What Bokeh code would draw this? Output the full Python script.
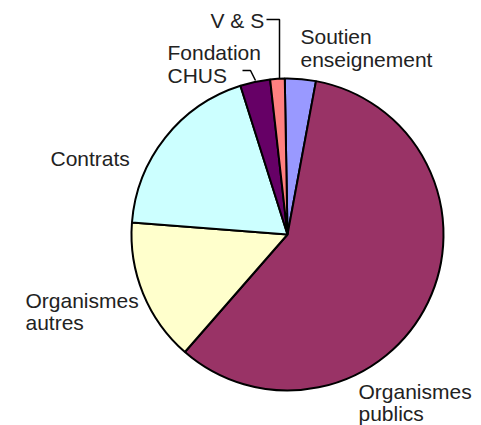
import math
from bokeh.plotting import figure
from bokeh.models import Range1d, ColumnDataSource
from bokeh.core.properties import value
from bokeh.embed import file_html
from bokeh.resources import INLINE

# Data (percent share, clockwise from 12 o'clock)
categories = ["Soutien enseignement", "Organismes publics", "Organismes autres",
              "Contrats", "Fondation CHUS", "V & S"]
shares = [3.2, 58.5, 14.8, 18.9, 3.1, 1.5]
colors = ["#9999FF", "#993366", "#FFFFCC", "#CCFFFF", "#660066", "#FF8080"]

# label lines
label_lines = ["V & S", "Soutien", "enseignement", "Fondation", "CHUS", "Contrats",
               "Organismes", "autres", "Organismes", "publics"]

W, H = 481, 425
p = figure(width=W, height=H, output_backend="svg", toolbar_location=None,
           x_range=Range1d(0, W), y_range=Range1d(0, H),
           x_axis_type=None, y_axis_type=None, min_border=0,
           outline_line_color=None, background_fill_color="white")
p.grid.visible = False

def Y(py):
    return 425 - py

cx, cy, r = 287, Y(234), 156
start0 = math.radians(91.0)
total = sum(shares)
starts, ends = [], []
cum = 0.0
for s in shares:
    a0 = start0 - 2 * math.pi * cum / total
    cum += s
    a1 = start0 - 2 * math.pi * cum / total
    starts.append(a0)
    ends.append(a1)

src = ColumnDataSource(dict(cat=categories, start=starts, end=ends, color=colors))
p.wedge(x=cx, y=cy, radius=r, start_angle="start", end_angle="end",
        direction="clock", fill_color="color", line_color="black",
        line_width=2, source=src)

# leader lines
p.line(x=[266, 279, 279], y=[Y(19), Y(19), Y(78)], line_color="black", line_width=1.5)
p.line(x=[242, 250, 255], y=[Y(70), Y(70), Y(80)], line_color="black", line_width=1.5)

lx = [210, 300, 300, 167, 167, 50, 25, 25, 358, 358]
ly = [27, 43, 66, 59, 82, 165, 307, 329, 398, 420]
p.text(x=lx, y=[Y(v - 7) for v in ly], text=label_lines,
       text_font=value("Liberation Sans"), text_font_size="21px",
       text_color="#222222", text_align="left", text_baseline="alphabetic")

open("out.html", "w").write(file_html(p, INLINE))
